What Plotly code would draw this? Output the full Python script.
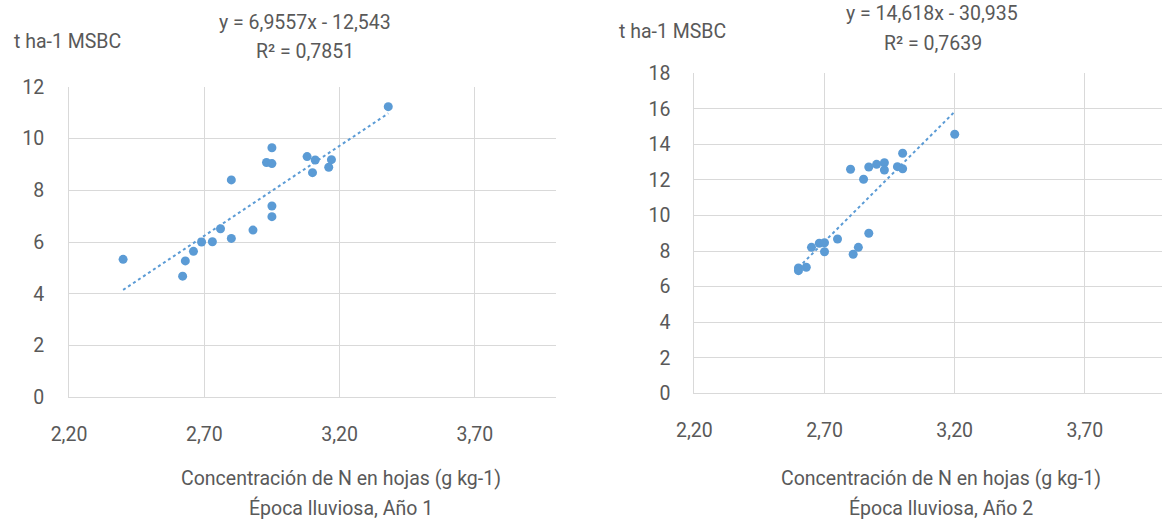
import plotly.graph_objects as go

W, H = 1163, 525

# Year 1: leaf N concentration (g kg-1) vs dry matter yield (t ha-1)
n_year1 = [2.40, 2.62, 2.63, 2.66, 2.69, 2.73, 2.76, 2.80, 2.80, 2.88, 2.93,
           2.95, 2.95, 2.95, 2.95, 3.08, 3.11, 3.10, 3.16, 3.17, 3.38]
yield_year1 = [5.33, 4.68, 5.27, 5.64, 6.00, 6.01, 6.51, 6.14, 8.40, 6.46, 9.07,
               9.03, 9.64, 7.39, 6.98, 9.30, 9.17, 8.68, 8.89, 9.18, 11.23]

# Year 2
n_year2 = [2.60, 2.60, 2.63, 2.65, 2.68, 2.70, 2.70, 2.75, 2.81, 2.83, 2.87,
           2.80, 2.85, 2.87, 2.90, 2.93, 2.93, 2.98, 3.00, 3.00, 3.20]
yield_year2 = [6.90, 7.05, 7.09, 8.21, 8.44, 8.47, 7.96, 8.68, 7.82, 8.21, 9.00,
               12.60, 12.04, 12.73, 12.88, 12.97, 12.56, 12.75, 12.63, 13.50, 14.57]

# Linear trend coefficients (slope, intercept) and R²
fit_year1 = (6.9557, -12.543, 0.7851)
fit_year2 = (14.618, -30.935, 0.7639)

x_ticks = [2.20, 2.70, 3.20, 3.70]
x_tick_labels = ["2,20", "2,70", "3,20", "3,70"]
y1_ticks = [0, 2, 4, 6, 8, 10, 12]
y2_ticks = [0, 2, 4, 6, 8, 10, 12, 14, 16, 18]

BLUE = "#5B9BD5"
GRID = "#D9D9D9"
TEXT = "#595959"
FONT = "Roboto, sans-serif"
FS = 19.5


def px_x(p):
    return p / W


def px_y(p):
    return 1 - p / H


def fmt(v, d):
    return f"{v:.{d}f}".replace(".", ",")


fig = go.Figure()

panels = [
    (n_year1, yield_year1, fit_year1, "x", "y"),
    (n_year2, yield_year2, fit_year2, "x2", "y2"),
]
for xs, ys, (m, b, r2), xa, ya in panels:
    fig.add_trace(go.Scatter(
        x=xs, y=ys, mode="markers", xaxis=xa, yaxis=ya,
        marker=dict(color=BLUE, size=9, line=dict(width=0)),
        showlegend=False,
    ))
    x0, x1 = min(xs), max(xs)
    fig.add_trace(go.Scatter(
        x=[x0, x1], y=[m * x0 + b, m * x1 + b], mode="lines",
        xaxis=xa, yaxis=ya,
        line=dict(color=BLUE, width=2, dash="dot"),
        showlegend=False,
    ))

axis_common = dict(
    showgrid=True, gridcolor=GRID, gridwidth=1,
    showline=True, linecolor=GRID, linewidth=1,
    zeroline=False, ticks="", automargin=False,
    tickfont=dict(family=FONT, size=FS, color=TEXT),
    fixedrange=True,
)

fig.update_layout(
    template="none",
    width=W, height=H, autosize=False,
    margin=dict(l=0, r=0, t=0, b=0, pad=0),
    paper_bgcolor="white", plot_bgcolor="white",
    xaxis=dict(domain=[px_x(69), px_x(556)], range=[2.2, 4.0], anchor="y",
               tickvals=x_ticks, ticktext=x_tick_labels,
               ticklabelstandoff=19, **axis_common),
    yaxis=dict(domain=[px_y(397.3), px_y(86.7)], range=[0, 12], anchor="x",
               tickvals=y1_ticks, ticklabelstandoff=20, **axis_common),
    xaxis2=dict(domain=[px_x(694.3), px_x(1162)], range=[2.2, 3.996], anchor="y2",
                tickvals=x_ticks, ticktext=x_tick_labels,
                ticklabelstandoff=19, **axis_common),
    yaxis2=dict(domain=[px_y(393.3), px_y(73.3)], range=[0, 18], anchor="x2",
                tickvals=y2_ticks, ticklabelstandoff=19, **axis_common),
)


def label(text, cx, cy, anchor="center"):
    fig.add_annotation(
        text=text, x=px_x(cx), y=px_y(cy), xref="paper", yref="paper",
        xanchor=anchor, yanchor="middle", showarrow=False,
        font=dict(family=FONT, size=FS, color=TEXT),
    )


# Left panel texts
label("t ha-1 MSBC", 12, 41.7, "left")
label(f"y = {fmt(fit_year1[0], 4)}x - {fmt(-fit_year1[1], 3)}", 304.5, 22.7)
label(f"R² = {fmt(fit_year1[2], 4)}", 304.5, 51.7)
label("Concentración de N en hojas (g kg-1)", 341, 478.3)
label("Época lluviosa, Año 1", 341, 508.3)

# Right panel texts
label("t ha-1 MSBC", 617, 31.7, "left")
label(f"y = {fmt(fit_year2[0], 3)}x - {fmt(-fit_year2[1], 3)}", 932, 14)
label(f"R² = {fmt(fit_year2[2], 4)}", 932.5, 43.3)
label("Concentración de N en hojas (g kg-1)", 940.7, 478.3)
label("Época lluviosa, Año 2", 941, 508.3)

fig.write_html("out.html")
